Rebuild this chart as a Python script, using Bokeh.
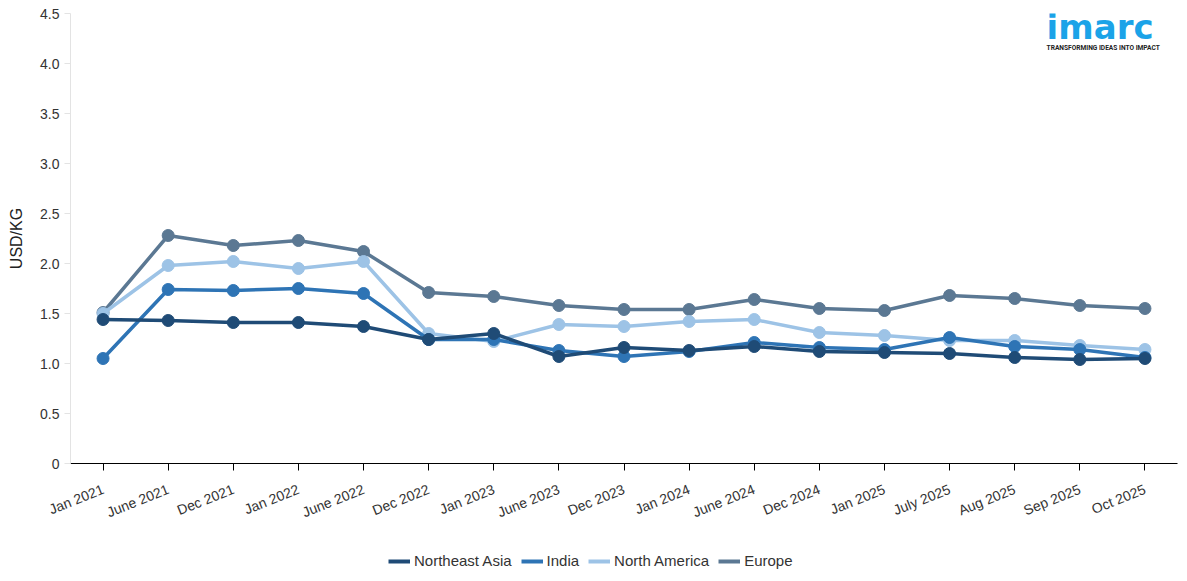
from bokeh.plotting import figure
from bokeh.models import FactorRange, Range1d, FixedTicker, Legend, LegendItem, Label, PrintfTickFormatter
from bokeh.layouts import column
from bokeh.embed import file_html
from bokeh.resources import INLINE

categories = ["Jan 2021", "June 2021", "Dec 2021", "Jan 2022", "June 2022", "Dec 2022",
              "Jan 2023", "June 2023", "Dec 2023", "Jan 2024", "June 2024", "Dec 2024",
              "Jan 2025", "July 2025", "Aug 2025", "Sep 2025", "Oct 2025"]

northeast_asia = [1.44, 1.43, 1.41, 1.41, 1.37, 1.24, 1.30, 1.07, 1.16, 1.13, 1.17, 1.12,
                  1.11, 1.10, 1.06, 1.04, 1.05]
india = [1.05, 1.74, 1.73, 1.75, 1.70, 1.24, 1.24, 1.13, 1.07, 1.12, 1.21, 1.16,
         1.14, 1.26, 1.17, 1.14, 1.06]
north_america = [1.50, 1.98, 2.02, 1.95, 2.02, 1.30, 1.22, 1.39, 1.37, 1.42, 1.44, 1.31,
                 1.28, 1.23, 1.23, 1.18, 1.14]
europe = [1.51, 2.28, 2.18, 2.23, 2.12, 1.71, 1.67, 1.58, 1.54, 1.54, 1.64, 1.55,
          1.53, 1.68, 1.65, 1.58, 1.55]

series_names = ["Northeast Asia", "India", "North America", "Europe"]
series_values = [northeast_asia, india, north_america, europe]
colors = ["#1f4b76", "#2e74b5", "#9dc3e6", "#5b7893"]

y_ticks = [0, 0.5, 1.0, 1.5, 2.0, 2.5, 3.0, 3.5, 4.0, 4.5]

FONT = "Liberation Sans"

p = figure(x_range=FactorRange(*categories, range_padding=0), y_range=Range1d(0, 4.5),
           width=1187, height=541, output_backend="svg", toolbar_location=None,
           min_border_left=70, min_border_top=13, min_border_right=10, min_border_bottom=78)
p.outline_line_color = None
p.xgrid.grid_line_color = None
p.ygrid.grid_line_color = None

for idx in [3, 2, 1, 0]:
    vals, col = series_values[idx], colors[idx]
    p.line(categories, vals, line_color=col, line_width=3.5)
    p.scatter(categories, vals, size=12, fill_color=col, line_color=col)

# y axis
p.yaxis.ticker = FixedTicker(ticks=y_ticks)
p.yaxis.formatter = PrintfTickFormatter(format="%.1f")
p.yaxis.major_label_overrides = {0: "0"}
p.yaxis.axis_line_color = "#e3e3e3"
p.yaxis.major_tick_line_color = "#e3e3e3"
p.yaxis.major_tick_out = 6
p.yaxis.major_tick_in = 0
p.yaxis.minor_tick_line_color = None
p.yaxis.major_label_text_font = FONT
p.yaxis.major_label_text_font_size = "14px"
p.yaxis.major_label_text_color = "#333333"
p.yaxis.axis_label = "USD/KG"
p.yaxis.axis_label_text_font = FONT
p.yaxis.axis_label_text_font_size = "16px"
p.yaxis.axis_label_text_font_style = "normal"
p.yaxis.axis_label_text_color = "#222222"
p.yaxis.axis_label_standoff = 12

# x axis
p.xaxis.axis_line_color = "#000000"
p.xaxis.major_tick_line_color = "#000000"
p.xaxis.major_tick_out = 7
p.xaxis.major_tick_in = 0
p.xaxis.major_label_orientation = 0.38
p.xaxis.major_label_text_font = FONT
p.xaxis.major_label_text_font_size = "14px"
p.xaxis.major_label_text_color = "#333333"
p.xaxis.major_label_standoff = 18

# logo
logo = Label(x=14.99, y=4.37, text="imarc", text_font="DejaVu Sans",
             text_font_size="34px", text_font_style="bold", text_color="#1ba3e8",
             text_baseline="middle", text_align="left")
tag = Label(x=14.99, y=4.155, text="TRANSFORMING IDEAS INTO IMPACT", text_font="Roboto",
            text_font_size="6.6px", text_font_style="bold", text_color="#222222",
            text_baseline="middle", text_align="left")
p.add_layout(logo)
p.add_layout(tag)

# legend in its own strip below the chart (sample lines lie outside its view)
pl = figure(width=1187, height=38, output_backend="svg", toolbar_location=None,
            x_axis_type=None, y_axis_type=None, min_border=0,
            x_range=Range1d(10, 11), y_range=Range1d(10, 11))
pl.outline_line_color = None
pl.xgrid.grid_line_color = None
pl.ygrid.grid_line_color = None
items = []
for name, col in zip(series_names, colors):
    r = pl.line([0, 1], [0, 0], line_color=col, line_width=4)
    items.append(LegendItem(label=name, renderers=[r]))
legend = Legend(items=items, orientation="horizontal", location=(318, 10),
                label_text_font=FONT, label_text_font_size="15px", label_text_color="#333333",
                glyph_width=22, glyph_height=14, label_standoff=4, spacing=9,
                border_line_color=None, background_fill_alpha=0, padding=4, margin=0)
pl.add_layout(legend, "center")

open("out.html", "w").write(file_html(column(p, pl), INLINE))
